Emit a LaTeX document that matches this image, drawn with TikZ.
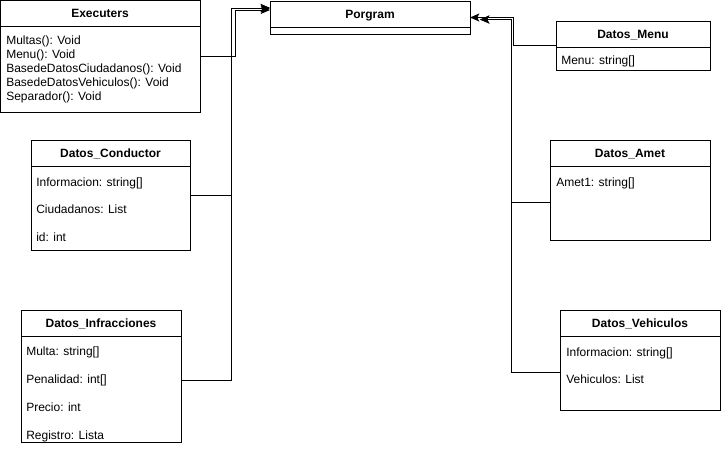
\documentclass[tikz,border=0pt]{standalone}
\usepackage{fontspec}
\setmainfont{Liberation Sans}
\usetikzlibrary{arrows.meta}
\tikzstyle{clase}=[draw, rectangle, inner sep=0pt, outer sep=0pt, line width=0.75pt]
\tikzstyle{titulo}=[font=\bfseries\fontsize{9}{11}\selectfont, inner sep=0pt, text height=6.75pt, text depth=0pt]
\tikzstyle{campo}=[anchor=west, font=\fontsize{9}{11}\selectfont, inner sep=0pt, text height=6.75pt, text depth=0pt]
\tikzstyle{flecha}=[line width=0.75pt, -{Stealth[length=7pt, width=6pt, inset=1.5pt]}]

\begin{document}
\begin{tikzpicture}[x=0.75pt, y=-0.75pt]
            \useasboundingbox (0,0) rectangle (721,454);
            % Clases
            \node[clase, minimum width=150pt, minimum height=84pt] (executers) at (100,56) {};
            \node[clase, minimum width=150pt, minimum height=24.75pt] (program) at (370,17.5) {};
            \node[clase, minimum width=115.5pt, minimum height=36.75pt] (menu) at (633,45.5) {};
            \node[clase, minimum width=119.25pt, minimum height=82.5pt] (conductor) at (110.5,195) {};
            \node[clase, minimum width=120pt, minimum height=99pt] (infracciones) at (101,376) {};
            \node[clase, minimum width=120pt, minimum height=75pt] (amet) at (630,190) {};
            \node[clase, minimum width=120pt, minimum height=75pt] (vehiculos) at (640,360) {};
            % Cabeceras
            \foreach \c in {executers, program, menu, conductor, infracciones, amet, vehiculos}
                \draw[line width=0.75pt] ([yshift=-19.5pt]\c.north west) -- ([yshift=-19.5pt]\c.north east);
            \node[titulo] (tExecuters) at ([yshift=-9.75pt]executers.north) {Executers};
            \node[titulo] (tProgram) at ([yshift=-9.75pt]program.north) {Porgram};
            \node[titulo] (tMenu) at ([yshift=-9.75pt]menu.north) {Datos\_Menu};
            \node[titulo] (tConductor) at ([yshift=-9.75pt]conductor.north) {Datos\_Conductor};
            \node[titulo] (tInfracciones) at ([yshift=-9.75pt]infracciones.north) {Datos\_Infracciones};
            \node[titulo] (tAmet) at ([yshift=-9.75pt]amet.north) {Datos\_Amet};
            \node[titulo] (tVehiculos) at ([yshift=-9.75pt]vehiculos.north) {Datos\_Vehiculos};
            % Atributos y metodos
            \foreach \t [count=\i] in {{Multas(): Void}, {Menu(): Void}, {BasedeDatosCiudadanos(): Void}, {BasedeDatosVehiculos(): Void}, {Separador(): Void}}
                \node[campo] (exe\i) at (6,{26+14*\i}) {\t};
            \foreach \t [count=\i] in {{Informacion: string[]}, {Ciudadanos: List}, {id: int}}
                \node[campo] (con\i) at (36,{154+27.5*\i}) {\t};
            \foreach \t [count=\i] in {{Multa: string[]}, {Penalidad: int[]}, {Precio: int}, {Registro: Lista}}
                \node[campo] (inf\i) at (26,{323+28*\i}) {\t};
            \node[campo] (men1) at (561,60) {Menu: string[]};
            \node[campo] (ame1) at (556,182) {Amet1: string[]};
            \node[campo] (veh1) at (566,352) {Informacion: string[]};
            \node[campo] (veh2) at (566,378.5) {Vehiculos: List};
            % Conexiones
            \coordinate (inL1) at ([yshift=-5.25pt]program.north west);
            \coordinate (inL2) at ([yshift=-6.75pt]program.north west);
            \coordinate (inR1) at (program.east);
            \coordinate (inR2) at ([xshift=7.5pt, yshift=-1.5pt]program.east);
            \draw[flecha] (executers.east) -- ++(35,0) |- (inL2);
            \draw[flecha] (conductor.east) -- ++(41,0) |- (inL1);
            \draw[flecha] ([yshift=-3pt]infracciones.east) -- ++(50,0) |- (inL1);
            \draw[flecha] (menu.west) -- ++(-43,0) |- (inR1);
            \draw[flecha] ([yshift=-9pt]amet.west) -- ++(-39,0) |- (inR2);
            \draw[flecha] ([yshift=-9pt]vehiculos.west) -- ++(-49,0) |- (inR2);
        \end{tikzpicture}
\end{document}
